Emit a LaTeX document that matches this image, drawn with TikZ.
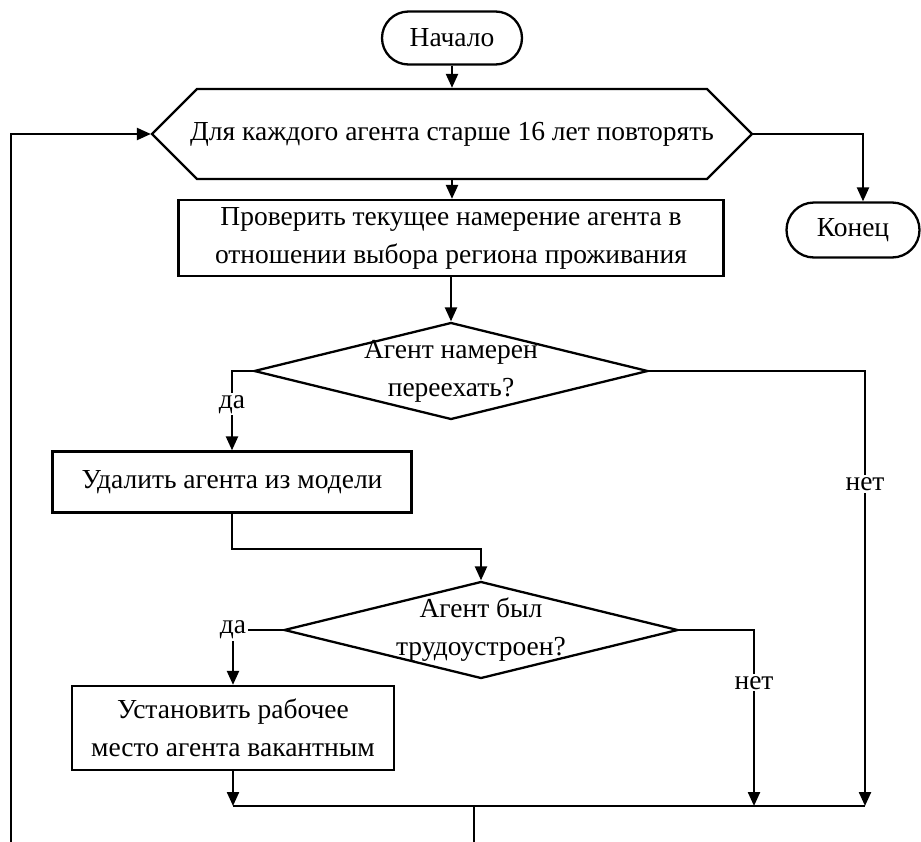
\documentclass[tikz,border=0pt]{standalone}
\usepackage{fontspec}
\setmainfont{Liberation Serif}
\usetikzlibrary{shapes.misc,shapes.geometric,arrows.meta,calc}

\newcommand{\chartfont}{\fontsize{27.5}{38}\selectfont}

\tikzset{
  flow/.style={line width=2.3pt},
  arr/.style={flow, -{Triangle[length=14pt,width=12pt]}},
  terminal/.style={draw, flow, rounded rectangle, inner sep=0pt, font=\chartfont},
  loopbox/.style={draw, flow, chamfered rectangle, chamfered rectangle xsep=28pt,
    chamfered rectangle ysep=33pt, inner sep=0pt, minimum width=600pt,
    minimum height=66pt, font=\chartfont},
  procbox/.style={draw, flow, rectangle, inner sep=0pt, align=center, font=\chartfont},
  decision/.style={draw, flow, diamond, inner sep=0pt, minimum width=394pt, minimum height=97pt},
  dtext/.style={align=center, inner sep=0pt, font=\chartfont},
  lbl/.style={fill=white, inner sep=2pt, font=\chartfont}
}

\begin{document}
\begin{tikzpicture}[x=1pt, y=-1pt]
\useasboundingbox (0,0) rectangle (921,841);

% blocks
\node[terminal, minimum width=140pt, minimum height=53pt] (start) at (452,38) {Начало};
\node[loopbox] (loop) at (452,134) {Для каждого агента старше 16 лет повторять};
\node[procbox, minimum width=545pt, minimum height=76pt] (check) at (451,238)
  {Проверить текущее намерение агента в\\отношении выбора региона проживания};
\node[terminal, minimum width=133pt, minimum height=55pt] (stop) at (853,230) {Конец};

\node[decision] (move) at (451,371) {};
\node[dtext] (movetxt) at (move) {Агент намерен\\переехать?};

\node[procbox, minimum width=359pt, minimum height=61pt] (remove) at (232,482) {Удалить агента из модели};

\node[decision] (job) at (481,630) {};
\node[dtext] (jobtxt) at (job) {Агент был\\трудоустроен?};

\node[procbox, minimum width=322pt, minimum height=84pt] (vacant) at (233,728)
  {Установить рабочее\\место агента вакантным};

% junction bus
\coordinate (busL) at (233,806);
\coordinate (busA) at (754,806);
\coordinate (busR) at (865,806);
\coordinate (busM) at (474,806);
\coordinate (busOut) at (474,845);
\coordinate (backLow) at (11,845);
\coordinate (backTop) at (11,134);

% connectors
\draw[arr] (start.south) -- (loop.north);
\draw[arr] (loop.south) -- (loop.south |- check.north);
\draw[arr] (loop.east) -| ([xshift=10pt]stop.north);
\draw[arr] (check.south) -- (move.north);

\draw[arr] (move.west) -| node[lbl, pos=0.71] (yes1) {да} (remove.north);
\draw[arr] (move.east) -| node[lbl, pos=0.63] (no1) {нет} (busR);

\draw[arr] (remove.south) -- ++(0,35) -| (job.north);

\draw[arr] (job.west) -| node[lbl, pos=0.5] (yes2) {да} (vacant.north);
\draw[arr] (job.east) -| node[lbl, pos=0.65] (no2) {нет} (busA);

\draw[arr] (vacant.south) -- (busL);
\draw[flow] (busL) -- (busR);
\draw[flow] (busM) -- (busOut);
\draw[arr] (backLow) -- (backTop) -- (loop.west);
\end{tikzpicture}
\end{document}
